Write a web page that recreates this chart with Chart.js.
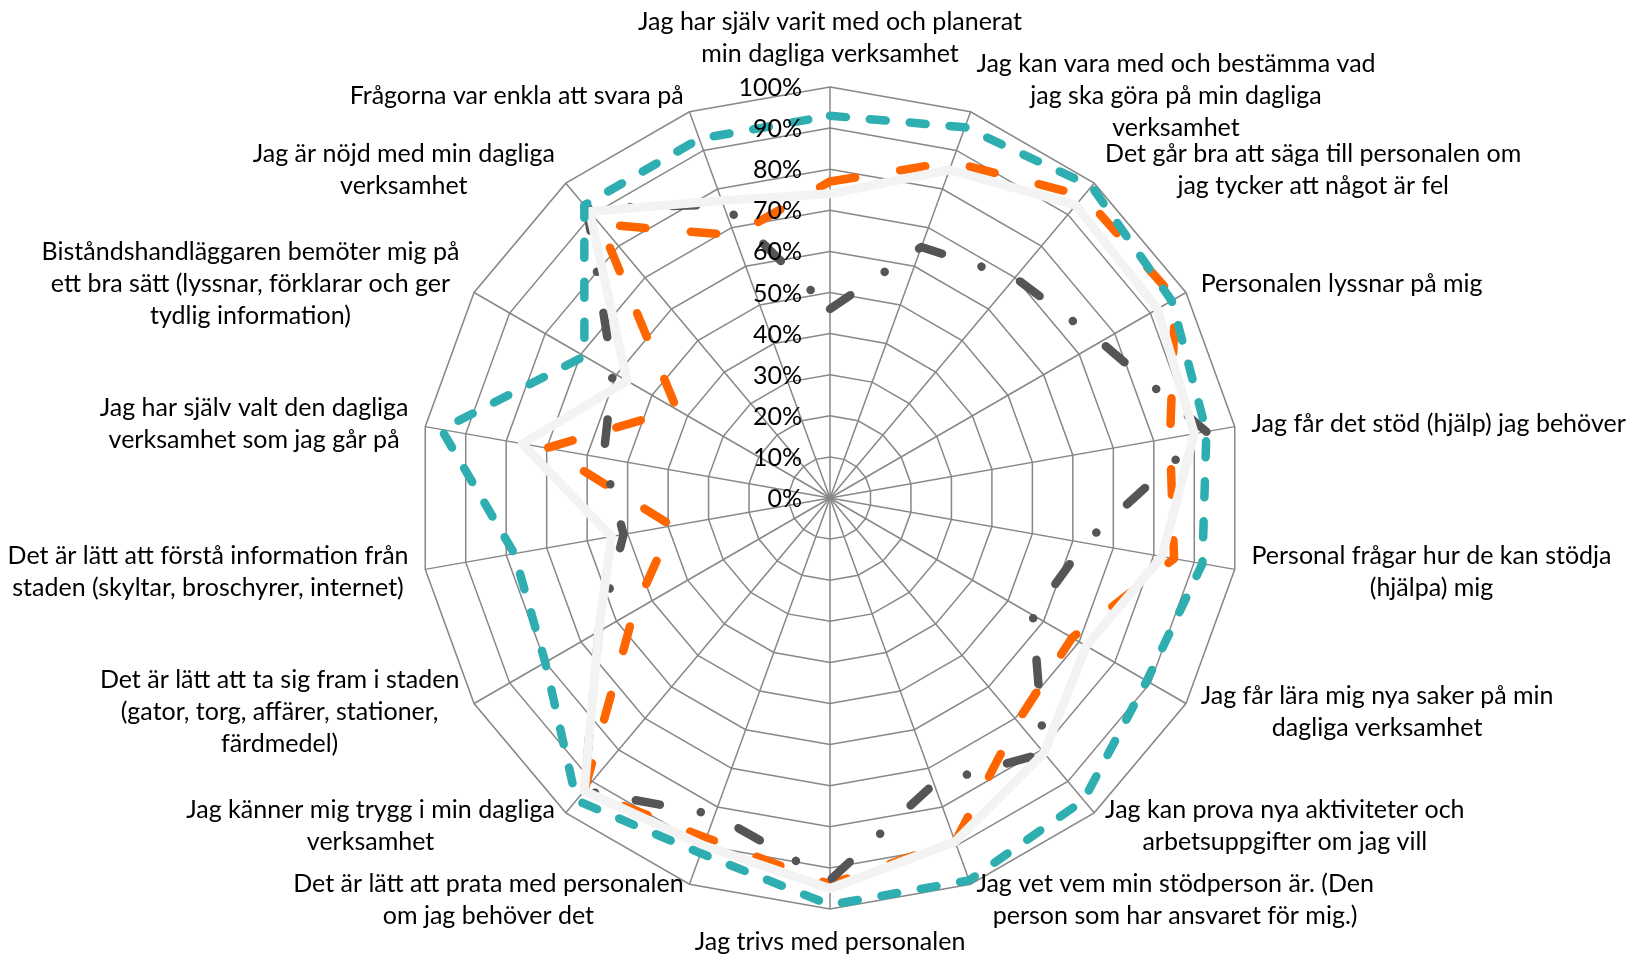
<!DOCTYPE html>
<html>
<head>
<meta charset="utf-8">
<script src="https://cdn.jsdelivr.net/npm/chart.js@4.4.1/dist/chart.umd.min.js"></script>
<style>
  html, body { margin: 0; padding: 0; background: #ffffff; }
  #wrap { width: 1630px; height: 956px; position: relative; }
</style>
</head>
<body>
<div id="wrap"><canvas id="radar"></canvas></div>
<script>
// frågor, medurs från toppen
const categories = [
    ["Jag har själv varit med och planerat", "min dagliga verksamhet"],
    ["Jag kan vara med och bestämma vad", "jag ska göra på min dagliga", "verksamhet"],
    ["Det går bra att säga till personalen om", "jag tycker att något är fel"],
    ["Personalen lyssnar på mig"],
    ["Jag får det stöd (hjälp) jag behöver"],
    ["Personal frågar hur de kan stödja", "(hjälpa) mig"],
    ["Jag får lära mig nya saker på min", "dagliga verksamhet"],
    ["Jag kan prova nya aktiviteter och", "arbetsuppgifter om jag vill"],
    ["Jag vet vem min stödperson är. (Den", "person som har ansvaret för mig.)"],
    ["Jag trivs med personalen"],
    ["Det är lätt att prata med personalen", "om jag behöver det"],
    ["Jag känner mig trygg i min dagliga", "verksamhet"],
    ["Det är lätt att ta sig fram i staden", "(gator, torg, affärer, stationer,", "färdmedel)"],
    ["Det är lätt att förstå information från", "staden (skyltar, broschyrer, internet)"],
    ["Jag har själv valt den dagliga", "verksamhet som jag går på"],
    ["Biståndshandläggaren bemöter mig på", "ett bra sätt (lyssnar, förklarar och ger", "tydlig information)"],
    ["Jag är nöjd med min dagliga", "verksamhet"],
    ["Frågorna var enkla att svara på"]
];

const grayValues   = [46, 65, 70, 76, 93, 63, 57, 81, 74, 93, 82, 93, 65, 51, 56, 61, 92, 76];
const orangeValues = [77, 87, 96, 97, 84, 85, 68, 71, 89, 94, 88, 93, 55, 39, 70, 43, 87, 68];
const whiteValues  = [74, 85, 93, 92, 90, 82, 72, 81, 89, 95, 90, 93, 65, 54, 76, 57, 91, 77];
const tealValues   = [93, 96, 99, 96, 93, 92, 89, 96, 99, 99, 92, 96, 80, 78, 96, 69, 93, 93];

const tickValues = [0, 10, 20, 30, 40, 50, 60, 70, 80, 90, 100];
const tickLabels = ["0%", "10%", "20%", "30%", "40%", "50%", "60%", "70%", "80%", "90%", "100%"];

const FONT = "25px Lato";
const LINE_H = 32;
const LABEL_GAP = 17;

// etiketter som i Excel: centrerade rader, blocket förankrat vid hörnet
const excelLabels = {
    id: 'excelLabels',
    afterDraw(chart) {
        const scale = chart.scales.r;
        const ctx = chart.ctx;
        const n = categories.length;
        ctx.save();
        ctx.font = FONT;
        ctx.fillStyle = '#000000';
        ctx.textAlign = 'center';
        ctx.textBaseline = 'middle';
        categories.forEach((lines, i) => {
            const p = scale.getPointPosition(i, scale.drawingArea + LABEL_GAP);
            const ang = Math.round(i * 360 / n);
            const w = Math.max(...lines.map(l => ctx.measureText(l).width));
            const h = lines.length * LINE_H;
            let cx = p.x;
            if (ang > 0 && ang < 180) cx = p.x + w / 2;
            if (ang > 180) cx = p.x - w / 2;
            let top = p.y - h / 2;
            if (ang === 0) top = p.y - h;
            if (ang === 180) top = p.y;
            lines.forEach((l, j) => ctx.fillText(l, cx, top + LINE_H * (j + 0.5)));
        });

        ctx.textAlign = 'right';
        tickValues.forEach((v, i) => {
            const y = scale.yCenter - scale.getDistanceFromCenterForValue(v);
            ctx.fillText(tickLabels[i], scale.xCenter - 28, y + 1);
        });
        ctx.restore();
    }
};

function makeChart() {
    const ctx = document.getElementById('radar').getContext('2d');
    return new Chart(ctx, {
        type: 'radar',
        data: {
            labels: categories,
            datasets: [
                {
                    label: 'Serie 1',
                    data: grayValues,
                    borderColor: '#555555',
                    borderWidth: 8.5,
                    borderDash: [24.5, 41.5, 0.1, 41.5],
                    order: 3
                },
                {
                    label: 'Serie 2',
                    data: orangeValues,
                    borderColor: '#ff6600',
                    borderWidth: 8.5,
                    borderDash: [25.5, 45.5],
                    order: 4
                },
                {
                    label: 'Serie 3',
                    data: tealValues,
                    borderColor: '#2eaeb1',
                    borderWidth: 8.5,
                    borderDash: [16, 24],
                    order: 1
                },
                {
                    label: 'Serie 4',
                    data: whiteValues,
                    borderColor: '#f3f3f3',
                    borderWidth: 9,
                    order: 2
                }
            ]
        },
        options: {
            responsive: true,
            maintainAspectRatio: false,
            animation: false,
            layout: {
                padding: { top: 87, bottom: 47, left: 419, right: 389 }
            },
            elements: {
                line: {
                    fill: false,
                    tension: 0,
                    borderCapStyle: 'round',
                    borderJoinStyle: 'round',
                    backgroundColor: 'rgba(0,0,0,0)'
                },
                point: { radius: 0, hoverRadius: 0 }
            },
            plugins: {
                legend: { display: false },
                tooltip: { enabled: false }
            },
            scales: {
                r: {
                    min: 0,
                    max: 100,
                    ticks: { stepSize: 10, display: false },
                    pointLabels: { display: false },
                    grid: { color: '#878787', lineWidth: 1.5 },
                    angleLines: { color: '#878787', lineWidth: 1.5 }
                }
            }
        },
        plugins: [excelLabels]
    });
}

makeChart();
</script>
</body>
</html>
